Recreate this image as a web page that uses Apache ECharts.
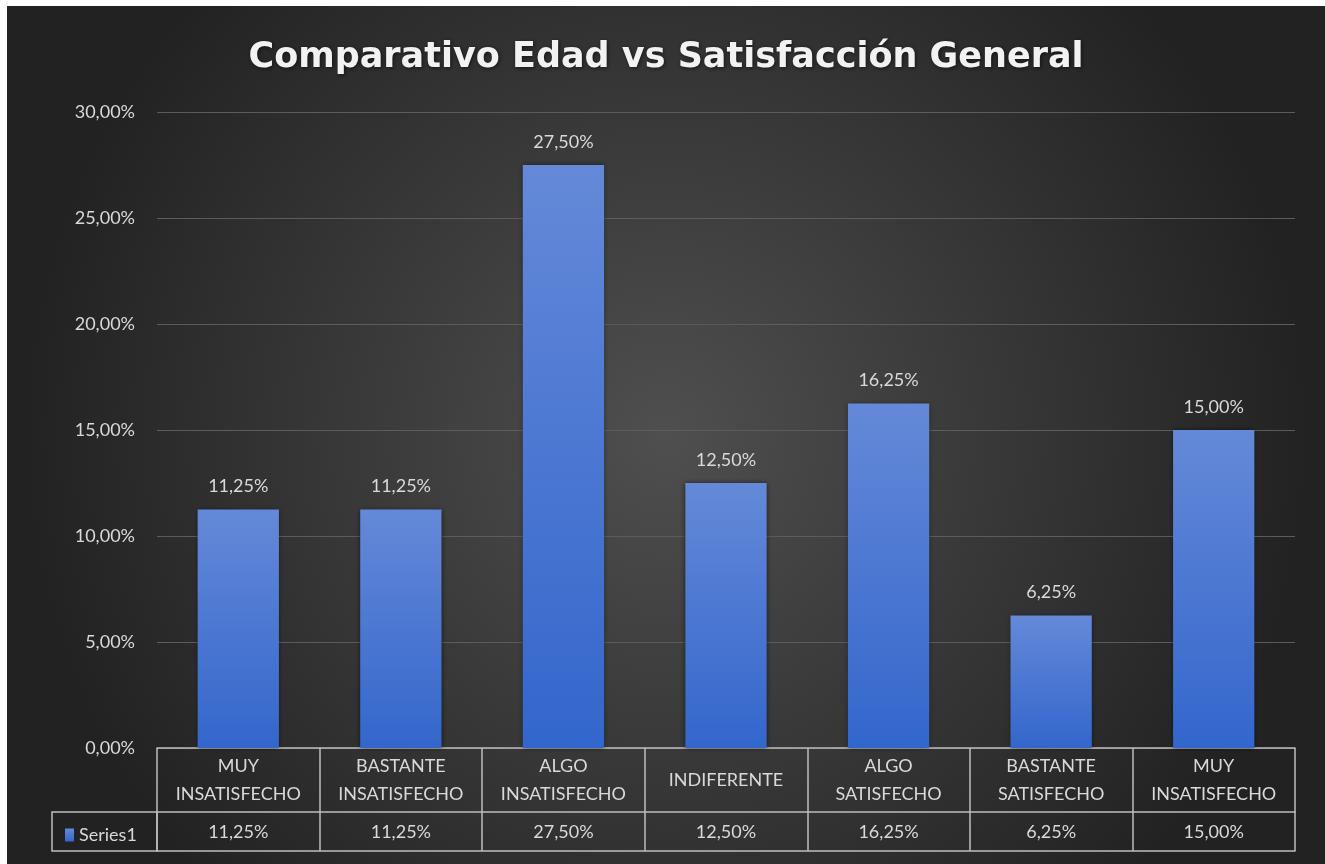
<!DOCTYPE html>
<html>
<head>
<meta charset="utf-8">
<script src="https://cdn.jsdelivr.net/npm/echarts@6/dist/echarts.min.js"></script>
<style>
  html, body { margin: 0; padding: 0; background: #ffffff; }
  #chart { position: absolute; left: 7px; top: 6px; width: 1318px; height: 858px; }
</style>
</head>
<body>
<div id="chart"></div>
<script>
// Satisfaction levels (category axis / table header row)
const categories = [
  'MUY\nINSATISFECHO',
  'BASTANTE\nINSATISFECHO',
  'ALGO\nINSATISFECHO',
  'INDIFERENTE',
  'ALGO\nSATISFECHO',
  'BASTANTE\nSATISFECHO',
  'MUY\nINSATISFECHO'
];
// Share of respondents per level, in percent
const series1 = [11.25, 11.25, 27.50, 12.50, 16.25, 6.25, 15.00];
const seriesName = 'Series1';
const chartTitle = 'Comparativo Edad vs Satisfacción General';

const pct = v => Number(v).toFixed(2).replace('.', ',') + '%';

const labelFont = 'Lato';
const textColor = '#d9d9d9';
const tableLine = '#bdbdbd';

const chart = echarts.init(document.getElementById('chart'));

chart.setOption({
  backgroundColor: new echarts.graphic.RadialGradient(0.5, 0.5, 0.75, [
    { offset: 0, color: '#4f4f4f' },
    { offset: 1, color: '#222222' }
  ]),
  animation: false,
  title: {
    text: chartTitle,
    left: 'center',
    top: 29,
    textStyle: {
      color: '#f2f2f2',
      fontFamily: 'DejaVu Sans',
      fontWeight: 'bold',
      fontSize: 35,
      textShadowColor: 'rgba(0,0,0,0.6)',
      textShadowBlur: 4,
      textShadowOffsetX: 1,
      textShadowOffsetY: 1
    }
  },
  legend: {
    data: [seriesName],
    left: 53,
    top: 815,
    icon: 'rect',
    itemWidth: 9,
    itemHeight: 13,
    itemGap: 6,
    textStyle: { color: textColor, fontFamily: labelFont, fontSize: 18 }
  },
  grid: { left: 150, right: 30, top: 106, bottom: 116 },
  yAxis: {
    type: 'value',
    min: 0,
    max: 30,
    interval: 5,
    axisLine: { show: false },
    axisTick: { show: false },
    axisLabel: {
      color: textColor,
      fontFamily: labelFont,
      fontSize: 18,
      margin: 22,
      formatter: v => pct(v)
    },
    splitLine: { lineStyle: { color: '#5c5c5c', width: 1 } }
  },
  xAxis: [
    {
      type: 'category',
      data: categories,
      position: 'bottom',
      axisLine: { show: true, lineStyle: { color: tableLine, width: 1.5 } },
      axisTick: { show: true, length: 103, interval: 0, lineStyle: { color: tableLine, width: 1.5 } },
      axisLabel: {
        interval: 0,
        color: textColor,
        fontFamily: labelFont,
        fontSize: 18,
        lineHeight: 28,
        margin: 32,
        verticalAlign: 'middle',
        align: 'center'
      }
    },
    {
      type: 'category',
      data: series1.map(pct),
      position: 'bottom',
      offset: 64,
      axisLine: { show: true, lineStyle: { color: tableLine, width: 1.5 } },
      axisTick: { show: false },
      axisLabel: {
        interval: 0,
        color: textColor,
        fontFamily: labelFont,
        fontSize: 18,
        margin: 20,
        verticalAlign: 'middle'
      }
    },
    {
      type: 'category',
      data: categories,
      position: 'bottom',
      offset: 103,
      axisLine: { show: true, lineStyle: { color: tableLine, width: 1.5 } },
      axisTick: { show: false },
      axisLabel: { show: false }
    }
  ],
  graphic: [
    {
      // legend key cell to the left of the value row
      type: 'rect',
      shape: { x: 45, y: 806, width: 105, height: 39 },
      style: { fill: 'none', stroke: tableLine, lineWidth: 1.5 },
      silent: true
    }
  ],
  series: [
    {
      name: seriesName,
      type: 'bar',
      xAxisIndex: 0,
      data: series1,
      barWidth: '50%',
      itemStyle: {
        color: new echarts.graphic.LinearGradient(0, 0, 0, 1, [
          { offset: 0, color: '#6489d8' },
          { offset: 1, color: '#3366cc' }
        ]),
        shadowColor: 'rgba(0,0,0,0.55)',
        shadowBlur: 5
      },
      label: {
        show: true,
        position: 'top',
        distance: 14,
        color: textColor,
        fontFamily: labelFont,
        fontSize: 18,
        formatter: p => pct(p.value)
      }
    }
  ]
});
</script>
</body>
</html>
